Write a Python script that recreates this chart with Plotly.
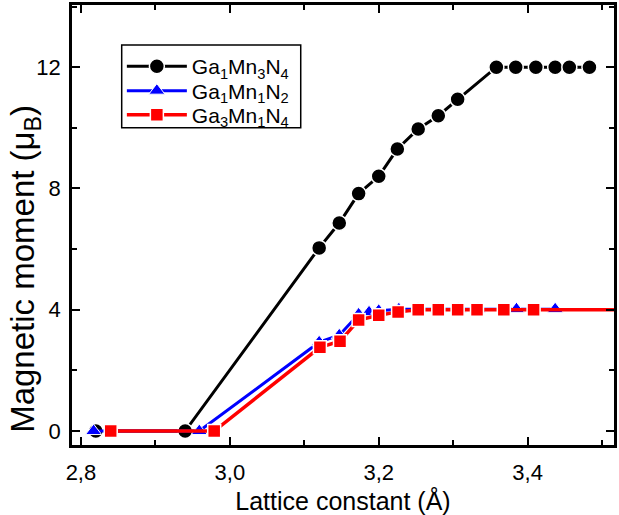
import plotly.graph_objects as go

# Ga1Mn3N4
x_mn3 = [2.82, 2.94, 3.12, 3.147, 3.173, 3.20, 3.225, 3.253, 3.28, 3.306, 3.358, 3.384, 3.411, 3.437, 3.456, 3.483]
y_mn3 = [0, 0, 6.04, 6.86, 7.83, 8.4, 9.3, 9.96, 10.4, 10.94, 12, 12, 12, 12, 12, 12]

# Ga1Mn1N2
x_mn1 = [2.817, 2.959, 3.12, 3.147, 3.173, 3.187, 3.20, 3.227, 3.253, 3.28, 3.307, 3.333, 3.385, 3.437]
y_mn1 = [0, 0, 2.93, 3.16, 3.85, 3.92, 3.97, 4.02, 4.02, 4.02, 4.02, 4.02, 4.02, 4.02]

# Ga3Mn1N4
x_ga3 = [2.84, 2.979, 3.121, 3.148, 3.173, 3.20, 3.226, 3.253, 3.28, 3.306, 3.332, 3.368, 3.408, 3.60]
y_ga3 = [0, 0, 2.76, 2.96, 3.66, 3.82, 3.93, 4.0, 4.0, 4.0, 4.0, 4.0, 4.0, 4.0]

names = ["Ga<sub>1</sub>Mn<sub>3</sub>N<sub>4</sub>",
         "Ga<sub>1</sub>Mn<sub>1</sub>N<sub>2</sub>",
         "Ga<sub>3</sub>Mn<sub>1</sub>N<sub>4</sub>"]
x_title = "Lattice constant (Å)"
y_title = "Magnetic moment (μ<sub>B</sub>)"

FONT = "Liberation Sans, Arial, sans-serif"

fig = go.Figure()
fig.add_trace(go.Scatter(
    x=x_mn3, y=y_mn3, mode="lines+markers", name=names[0], legend="legend",
    line=dict(color="black", width=3),
    marker=dict(symbol="circle", size=15, color="black", line=dict(color="white", width=1.5)),
))
fig.add_trace(go.Scatter(
    x=x_mn1, y=y_mn1, mode="lines+markers", name=names[1], legend="legend2",
    line=dict(color="#0000ff", width=3),
    marker=dict(symbol="triangle-up", size=14, color="#0000ff", line=dict(color="white", width=1)),
))
fig.add_trace(go.Scatter(
    x=x_ga3, y=y_ga3, mode="lines+markers", name=names[2], legend="legend3",
    line=dict(color="#ff0000", width=3.5),
    marker=dict(symbol="square", size=13, color="#ff0000", line=dict(color="white", width=1.5)),
))

axis_common = dict(
    showline=True, linecolor="black", linewidth=2.5, mirror="ticks",
    ticks="inside", ticklen=8, tickwidth=2, tickcolor="black",
    showgrid=False, zeroline=False,
    tickfont=dict(family=FONT, size=22, color="black"),
)

fig.update_xaxes(
    range=[2.788, 3.516], tickvals=[2.8, 3.0, 3.2, 3.4], tickformat=".1f",
    minor=dict(ticks="inside", ticklen=5, tickwidth=2, tickcolor="black", tickvals=[2.9, 3.1, 3.3, 3.5]),
    ticklabelstandoff=6,
    title_text=x_title, title_standoff=10,
    title_font=dict(family=FONT, size=25, color="black"),
    **axis_common,
)
fig.update_yaxes(
    range=[-0.46, 14.05], tickvals=[0, 4, 8, 12],
    minor=dict(ticks="inside", ticklen=5, tickwidth=2, tickcolor="black", tickvals=[2, 6, 10, 14]),
    ticklabelstandoff=4,
    **axis_common,
)

fig.add_annotation(
    text=y_title, xref="paper", yref="paper", x=-0.087, y=0.40,
    xanchor="center", yanchor="middle", textangle=-90, showarrow=False,
    font=dict(family=FONT, size=33, color="black"),
)

# legend frame
fig.add_shape(type="rect", xref="paper", yref="paper",
              x0=0.0917, x1=0.422, y0=0.721, y1=0.909,
              line=dict(color="black", width=1.5), fillcolor="white", layer="above")

leg_common = dict(
    x=0.092, xanchor="left", yanchor="middle",
    bgcolor="rgba(0,0,0,0)", borderwidth=0,
    font=dict(family=FONT, size=21, color="black"),
    itemwidth=60,
)

fig.update_layout(
    width=619, height=515,
    margin=dict(l=72, r=2, t=5, b=69),
    paper_bgcolor="white", plot_bgcolor="white",
    separators=",.",
    showlegend=True,
    legend=dict(y=0.860, **leg_common),
    legend2=dict(y=0.8045, **leg_common),
    legend3=dict(y=0.7495, **leg_common),
)

fig.write_html("out.html")
